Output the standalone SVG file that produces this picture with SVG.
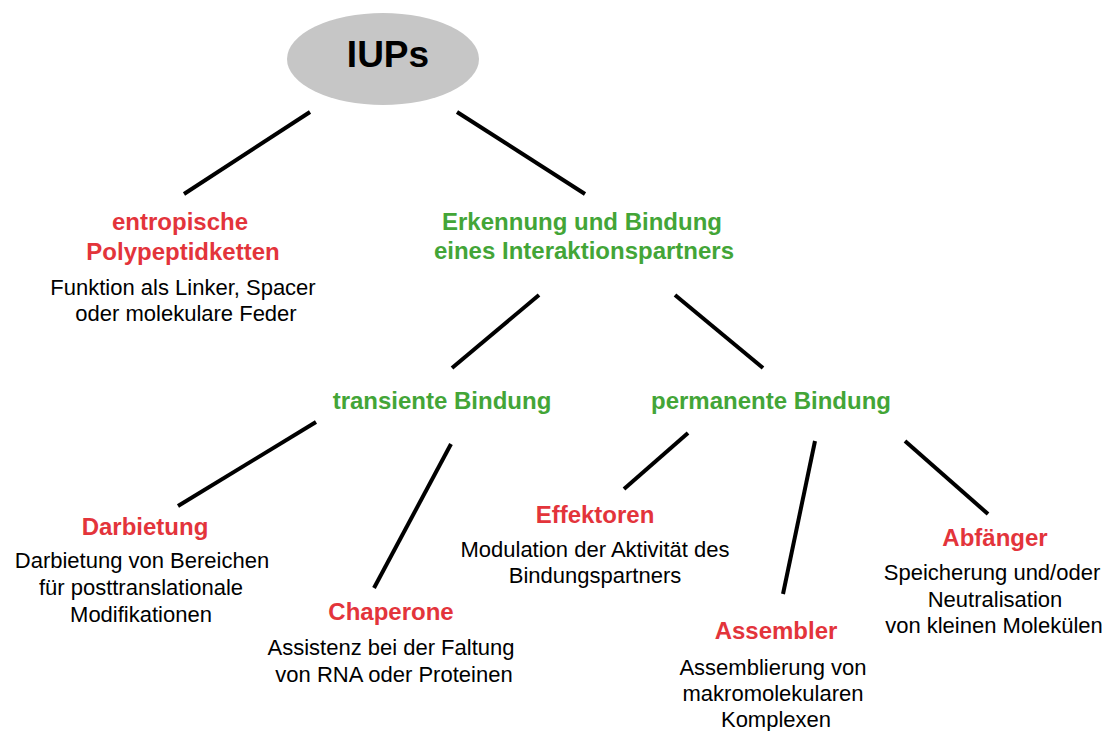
<svg xmlns="http://www.w3.org/2000/svg" width="1110" height="731" viewBox="0 0 1110 731">
<style>
.bg{fill:#ffffff}
.t{font-family:"Liberation Sans",Arial,sans-serif;text-anchor:middle}
.lbl{font-size:24px;font-weight:bold}
.red{fill:#E3343B}
.green{fill:#43A537}
.desc{font-size:22px;fill:#000000}
.edge{stroke:#000000;stroke-width:4;fill:none}
</style>
<rect class="bg" x="0" y="0" width="1110" height="731"/>
<g id="connectors">
<line class="edge" x1="310" y1="112" x2="184" y2="194"/>
<line class="edge" x1="457" y1="112" x2="585" y2="194"/>
<line class="edge" x1="539" y1="295" x2="452" y2="368"/>
<line class="edge" x1="675" y1="295" x2="763" y2="368"/>
<line class="edge" x1="316" y1="422" x2="178" y2="506"/>
<line class="edge" x1="451" y1="444" x2="374" y2="588"/>
<line class="edge" x1="688" y1="433" x2="624" y2="489"/>
<line class="edge" x1="815" y1="441" x2="783" y2="594"/>
<line class="edge" x1="905" y1="441" x2="988" y2="514"/>
</g>
<g id="iups">
<ellipse cx="383" cy="59" rx="96" ry="46" fill="#C6C6C6"/>
<text class="t" x="388" y="67" font-size="37" font-weight="bold" fill="#000000">IUPs</text>
</g>
<g id="entropische">
<text class="t lbl red" x="180" y="230">entropische</text>
<text class="t lbl red" x="183" y="260">Polypeptidketten</text>
<text class="t desc" x="183" y="295">Funktion als Linker, Spacer</text>
<text class="t desc" x="186" y="321">oder molekulare Feder</text>
</g>
<g id="erkennung">
<text class="t lbl green" x="582" y="230">Erkennung und Bindung</text>
<text class="t lbl green" x="584" y="259">eines Interaktionspartners</text>
</g>
<g id="transiente">
<text class="t lbl green" x="442" y="409">transiente Bindung</text>
</g>
<g id="permanente">
<text class="t lbl green" x="771" y="409">permanente Bindung</text>
</g>
<g id="darbietung">
<text class="t lbl red" x="145" y="535">Darbietung</text>
<text class="t desc" x="142" y="568">Darbietung von Bereichen</text>
<text class="t desc" x="141" y="595">für posttranslationale</text>
<text class="t desc" x="141" y="622">Modifikationen</text>
</g>
<g id="chaperone">
<text class="t lbl red" x="391" y="620">Chaperone</text>
<text class="t desc" x="391" y="655">Assistenz bei der Faltung</text>
<text class="t desc" x="394" y="682">von RNA oder Proteinen</text>
</g>
<g id="effektoren">
<text class="t lbl red" x="595" y="523">Effektoren</text>
<text class="t desc" x="595" y="557">Modulation der Aktivität des</text>
<text class="t desc" x="595" y="583">Bindungspartners</text>
</g>
<g id="assembler">
<text class="t lbl red" x="776" y="639">Assembler</text>
<text class="t desc" x="773" y="675">Assemblierung von</text>
<text class="t desc" x="773" y="701">makromolekularen</text>
<text class="t desc" x="776" y="727">Komplexen</text>
</g>
<g id="abfaenger">
<text class="t lbl red" x="995" y="546">Abfänger</text>
<text class="t desc" x="992" y="580">Speicherung und/oder</text>
<text class="t desc" x="995" y="607">Neutralisation</text>
<text class="t desc" x="994" y="633">von kleinen Molekülen</text>
</g>
</svg>
